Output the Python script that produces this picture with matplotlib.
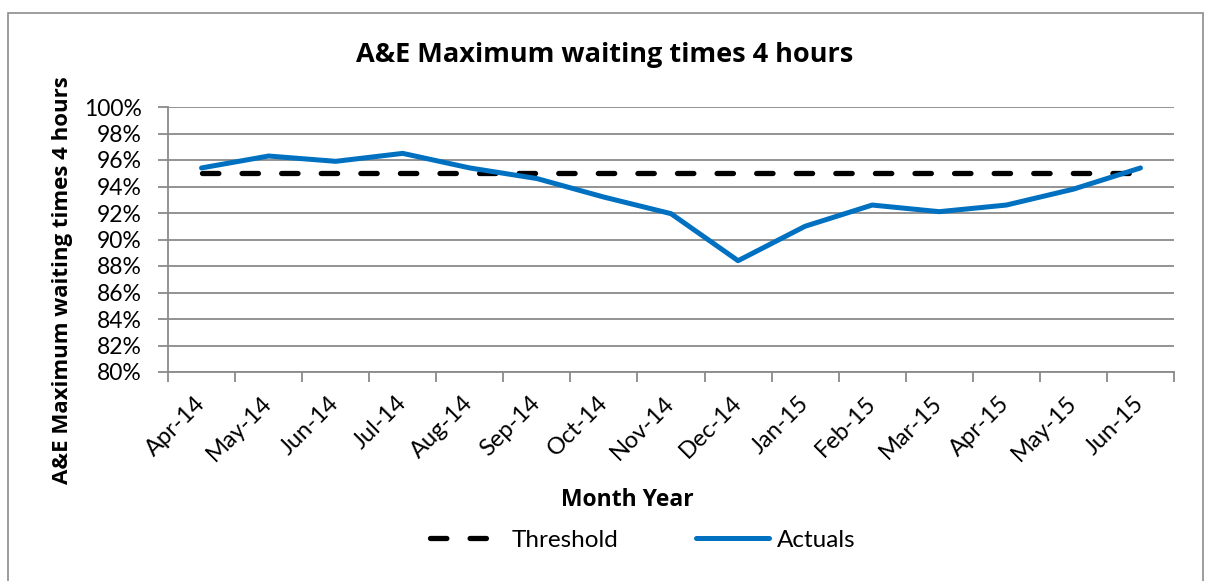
import matplotlib
matplotlib.use("Agg")
import matplotlib.pyplot as plt
from matplotlib.patches import Rectangle
from matplotlib.ticker import FixedLocator, FuncFormatter

months = ["Apr-14", "May-14", "Jun-14", "Jul-14", "Aug-14", "Sep-14", "Oct-14",
          "Nov-14", "Dec-14", "Jan-15", "Feb-15", "Mar-15", "Apr-15", "May-15", "Jun-15"]
threshold = [95.0] * 15
actuals = [95.4, 96.3, 95.9, 96.5, 95.4, 94.6, 93.2, 91.95, 88.4, 91.0, 92.6, 92.1, 92.6, 93.8, 95.4]

plt.rcParams['font.family'] = ['Lato', 'DejaVu Sans']
BOLD = ['Open Sans', 'DejaVu Sans']

W, H = 1206, 581
fig = plt.figure(figsize=(W / 100, H / 100), dpi=100)
fig.patch.set_facecolor("white")

# outer chart border
fig.add_artist(Rectangle((8 / W, -0.01), (1203 - 8) / W, 1 - 13 / H + 0.01,
                         transform=fig.transFigure, fill=False,
                         edgecolor="#8c8c8c", linewidth=1.2))

left, right, top, bottom = 168, 1174, 107, 372
ax = fig.add_axes([left / W, 1 - bottom / H, (right - left) / W, (bottom - top) / H])

x = list(range(len(months)))
gray = "#8a8a8a"

ax.plot(x, threshold, color="black", linewidth=3.8, linestyle=(0, (3.1, 4.4)),
        dash_capstyle="round", label="Threshold", zorder=3)
ax.plot(x, actuals, color="#0070C0", linewidth=3.6, solid_capstyle="round",
        solid_joinstyle="round", label="Actuals", zorder=4)

ax.set_xlim(-0.5, len(months) - 0.5)
ax.set_ylim(80, 100)
ax.set_yticks(range(80, 101, 2))
ax.yaxis.set_major_formatter(FuncFormatter(lambda v, p: f"{int(v)}%"))
ax.yaxis.grid(True, color=gray, linewidth=1.3)
ax.set_axisbelow(True)

ax.set_xticks(x)
ax.set_xticklabels(months, rotation=45, ha="right", rotation_mode="anchor", va="center")
ax.xaxis.set_minor_locator(FixedLocator([i - 0.5 for i in range(len(months) + 1)]))
ax.tick_params(axis="x", which="major", length=0, pad=20, labelsize=17, colors="black")
ax.tick_params(axis="x", which="minor", length=7, width=1.3, color=gray, direction="out")
ax.tick_params(axis="y", which="major", length=7, width=1.3, color=gray, labelsize=16.5, pad=12)

for s in ["top", "right"]:
    ax.spines[s].set_visible(False)
for s in ["left", "bottom"]:
    ax.spines[s].set_color(gray)
    ax.spines[s].set_linewidth(1.3)

ax.set_ylabel("A&E Maximum waiting times 4 hours", fontsize=16, fontweight="bold",
              family=BOLD)
ax.yaxis.set_label_coords((73 - left) / (right - left), (bottom - 280) / (bottom - top))

fig.text(627 / W, 1 - 500 / H, "Month Year", ha="center", va="center",
         fontsize=16.5, fontweight="bold", family=BOLD)
fig.text(605 / W, 1 - 55 / H, "A&E Maximum waiting times 4 hours", ha="center",
         va="center", fontsize=19.5, fontweight="bold", family=BOLD)

fig.legend(loc="center", bbox_to_anchor=(643 / W, 1 - 540 / H), ncol=2, frameon=False,
           fontsize=17.5, handlelength=3.0, handletextpad=0.35, columnspacing=3.2)

fig.savefig("out.png", dpi=100)
